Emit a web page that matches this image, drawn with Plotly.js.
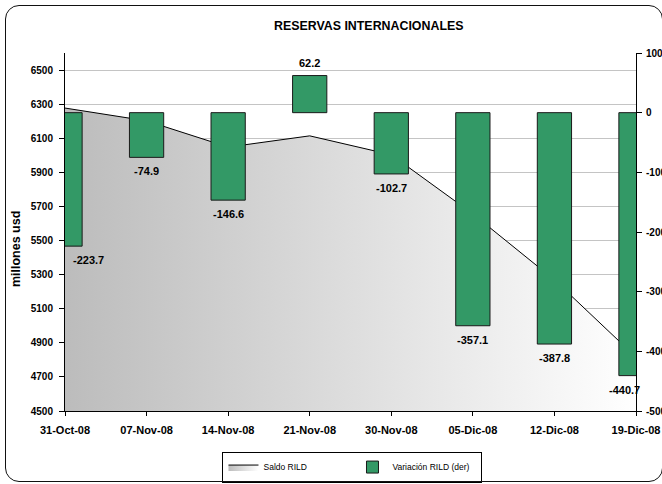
<!DOCTYPE html>
<html>
<head>
<meta charset="utf-8">
<script src="https://cdn.plot.ly/plotly-3.0.1.min.js"></script>
<style>
  html, body { margin: 0; padding: 0; background: #ffffff; }
  #wrap { position: relative; width: 662px; height: 484px; overflow: hidden; }
  #chart { width: 662px; height: 484px; }
  #frame { position: absolute; left: 5px; top: 5px; width: 658px; height: 477px; box-sizing: border-box;
           border: 1.5px solid #111; border-radius: 14px; pointer-events: none; }
</style>
</head>
<body>
<div id="wrap">
  <div id="chart"></div>
  <div id="frame"></div>
</div>
<script>
// ---- data ----
const categories = ['31-Oct-08', '07-Nov-08', '14-Nov-08', '21-Nov-08', '30-Nov-08', '05-Dic-08', '12-Dic-08', '19-Dic-08'];
const saldoRILD = [6277, 6202, 6048, 6114, 6003, 5656, 5269, 4816];
const variacionRILD = [-223.7, -74.9, -146.6, 62.2, -102.7, -357.1, -387.8, -440.7];
const seriesNames = ['Saldo RILD', 'Variación RILD (der)'];
const leftTicks = [4500, 4700, 4900, 5100, 5300, 5500, 5700, 5900, 6100, 6300, 6500];
const rightTicks = [-500, -400, -300, -200, -100, 0, 100];
const chartTitle = 'RESERVAS INTERNACIONALES';
const leftAxisTitle = 'millones usd';

const FONT = 'Liberation Sans, Arial, sans-serif';

const saldoTrace = {
  type: 'scatter',
  mode: 'lines',
  name: seriesNames[0],
  x: categories,
  y: saldoRILD,
  xaxis: 'x',
  yaxis: 'y',
  line: { color: '#000000', width: 1 },
  fill: 'tozeroy',
  fillcolor: '#d9d9d9',
  fillgradient: { type: 'horizontal', colorscale: [[0, '#bcbcbc'], [1, '#ffffff']] },
  hoverinfo: 'x+y'
};

const varTrace = {
  type: 'bar',
  name: seriesNames[1],
  x: categories,
  y: variacionRILD,
  xaxis: 'x',
  yaxis: 'y2',
  width: 0.42,
  marker: { color: '#339966', line: { color: '#1a1a1a', width: 1 } },
  hoverinfo: 'x+y'
};

// value labels for the bars (shifted inward at the two clipped edge bars, as in the reference)
const n = categories.length;
const labelAnnotations = variacionRILD.map((v, i) => ({
  x: categories[i],
  y: v,
  xref: 'x',
  yref: 'y2',
  text: v.toFixed(1),
  showarrow: false,
  yanchor: v >= 0 ? 'bottom' : 'top',
  yshift: v >= 0 ? 5 : -6,
  xshift: i === 0 ? 23 : (i === n - 1 ? -12 : 0),
  font: { family: FONT, size: 11, color: '#000000', weight: 'bold' }
}));

const yTitleAnnotation = {
  text: '<b>' + leftAxisTitle + '</b>',
  textangle: -90,
  xref: 'paper', yref: 'paper',
  x: -0.0857, y: 0.4525,
  xanchor: 'center', yanchor: 'middle',
  showarrow: false,
  font: { family: FONT, size: 12.5, color: '#000000' }
};

const layout = {
  width: 662,
  height: 484,
  margin: { l: 65, r: 26, t: 53, b: 73, pad: 0 },
  paper_bgcolor: '#ffffff',
  plot_bgcolor: '#ffffff',
  font: { family: FONT, color: '#000000' },
  title: {
    text: '<b>' + chartTitle + '</b>',
    font: { family: FONT, size: 12.4, color: '#000000' },
    x: 0.557, xref: 'container', xanchor: 'center',
    y: 0.948, yref: 'container', yanchor: 'middle'
  },
  xaxis: {
    type: 'category',
    categoryorder: 'array',
    categoryarray: categories,
    range: [0, n - 1],
    showgrid: false,
    showline: true,
    linecolor: '#000000',
    linewidth: 1,
    ticks: 'outside',
    ticklen: 4,
    tickcolor: '#000000',
    ticklabelstandoff: 5,
    tickfont: { family: FONT, size: 11, color: '#000000', weight: 'bold' },
    zeroline: false,
    fixedrange: true
  },
  yaxis: {
    range: [4500, 6600],
    tickvals: leftTicks,
    ticktext: leftTicks.map(String),
    showgrid: true,
    gridcolor: '#c4c4c4',
    gridwidth: 1,
    showline: true,
    linecolor: '#000000',
    linewidth: 1,
    ticks: 'outside',
    ticklen: 5,
    tickcolor: '#000000',
    ticklabelstandoff: 4,
    tickfont: { family: FONT, size: 10, color: '#000000', weight: 'bold' },
    zeroline: false,
    fixedrange: true
  },
  yaxis2: {
    overlaying: 'y',
    side: 'right',
    range: [-500, 100],
    tickvals: rightTicks,
    ticktext: rightTicks.map(String),
    showgrid: false,
    showline: true,
    linecolor: '#000000',
    linewidth: 1,
    ticks: 'outside',
    ticklen: 5,
    tickcolor: '#000000',
    ticklabelstandoff: 2,
    tickfont: { family: FONT, size: 10, color: '#000000', weight: 'bold' },
    zeroline: false,
    fixedrange: true
  },
  showlegend: true,
  legend: {
    orientation: 'h',
    x: 0.5035, xref: 'paper', xanchor: 'center',
    y: 0.035, yref: 'container', yanchor: 'middle',
    bordercolor: '#000000',
    borderwidth: 1,
    bgcolor: '#ffffff',
    font: { family: FONT, size: 8.5, color: '#000000' },
    entrywidth: 84,
    itemwidth: 30,
    traceorder: 'normal'
  },
  annotations: labelAnnotations.concat([yTitleAnnotation]),
  bargap: 0.5
};

Plotly.newPlot('chart', [saldoTrace, varTrace], layout, { displayModeBar: false, staticPlot: true });
</script>
</body>
</html>
